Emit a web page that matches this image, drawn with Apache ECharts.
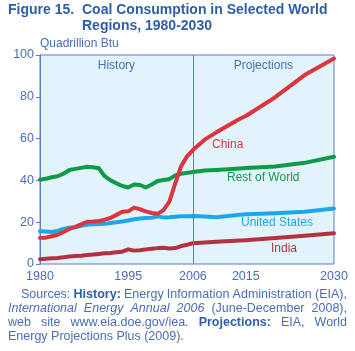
<!DOCTYPE html>
<html>
<head>
<meta charset="utf-8">
<script src="https://cdn.jsdelivr.net/npm/echarts@6/dist/echarts.min.js"></script>
<style>html,body{margin:0;padding:0;background:#fff}#c{width:355px;height:351px}</style>
</head>
<body>
<div id="c"></div>
<script>
const years = [1980,1981,1982,1983,1984,1985,1986,1987,1988,1989,1990,1991,1992,1993,1994,1995,1996,1997,1998,1999,2000,2001,2002,2003,2004,2005,2006,2008,2010,2014,2015,2020,2025,2030];
const china = [12.5,12.6,13.3,14.0,15.3,16.8,17.8,19.0,20.2,20.3,20.6,21.2,22.0,23.5,25.0,25.2,27.0,26.2,25.2,24.4,24.0,25.8,29.8,38.6,46.8,51.5,54.5,59.5,63.0,69.5,70.8,79.8,90.4,98.3];
const restOfWorld = [40.3,40.8,41.5,42.0,43.2,45.0,45.5,46.0,46.5,46.3,45.8,42.0,40.0,38.6,37.3,36.6,38.0,37.8,36.6,38.0,39.7,40.2,40.6,42.4,43.2,43.6,44.0,44.7,45.0,45.7,45.9,46.6,48.4,51.3];
const unitedStates = [15.7,15.5,15.3,15.8,16.8,17.3,17.6,18.3,18.8,19.0,19.1,19.2,19.6,20.0,20.3,20.8,21.4,21.8,22.0,22.1,22.8,22.3,22.4,22.6,22.8,22.9,23.0,22.7,22.4,23.6,23.8,24.3,25.0,26.6];
const india = [2.3,2.5,2.7,2.9,3.2,3.6,3.8,4.0,4.3,4.5,4.8,5.1,5.3,5.6,5.9,7.0,6.4,6.6,7.0,7.3,7.6,7.8,7.4,7.6,8.6,9.2,9.9,10.3,10.6,11.2,11.4,12.4,13.5,14.7];
const xTickLabels = [1980,1995,2006,2015,2030];
const yTicks = {min:0, max:100, interval:20};
const periods = ['History','Projections'];
const boundaryYear = 2006;

const blue = '#4a6db5';
const dark = '#2f5ea6';
const font = 'Liberation Sans, Arial, sans-serif';
function pairs(arr){ return years.map((y,i)=>[y,arr[i]]); }
function lineSeries(name, data, color, z){
  return {name, type:'line', data:pairs(data), symbol:'none', smooth:false, z,
    lineStyle:{color, width:4, cap:'round', join:'round'}, silent:true, animation:false};
}
const seriesList = [
  lineSeries('India', india, '#b3323f', 2),
  lineSeries('United States', unitedStates, '#1ea7e8', 3),
  lineSeries('Rest of World', restOfWorld, '#0f9a48', 4),
  lineSeries('China', china, '#dc3540', 5)
];
seriesList[0].markArea = {silent:true, itemStyle:{color:'rgba(0,0,0,0)'},
  label:{position:'insideTop', color:blue, fontFamily:font, fontSize:12, distance:5},
  data:[[{name:periods[0], xAxis:1980},{xAxis:boundaryYear}],[{name:periods[1], xAxis:boundaryYear},{xAxis:2030}]]};
seriesList[0].markLine = {silent:true, symbol:'none', label:{show:false},
  lineStyle:{color:'#5b7fc0', width:1, type:'solid'}, data:[{xAxis:boundaryYear}], animation:false};

const src = '12.5px '+font, bold = 'bold 12.5px '+font, ital = 'italic 12.5px '+font;
function t(x,y,text,opts){ return {type:'text', x, y, silent:true, style:Object.assign({text, fill:blue, font:'12px '+font, textVerticalAlign:'middle'}, opts||{})}; }
const ctx = document.createElement('canvas').getContext('2d');
function justify(words, y, x0, x1){
  const ws = words.map(w=>{ ctx.font = w.font; return ctx.measureText(w.text).width; });
  const total = ws.reduce((a,b)=>a+b,0);
  const gap = (x1-x0-total)/(words.length-1);
  let x = x0; const out = [];
  words.forEach((w,i)=>{ out.push(t(x,y,w.text,{font:w.font, fill:w.fill||blue})); x += ws[i]+gap; });
  return out;
}
const W = (text, f, fill) => ({text, font:f||src, fill});

const chart = echarts.init(document.getElementById('c'), null, {renderer:'canvas'});
chart.setOption({
  animation:false,
  grid:{left:40, top:55, right:21, bottom:87, show:true, backgroundColor:'#e2f3fc', borderColor:'#5b7fc0', borderWidth:1},
  xAxis:{type:'value', min:1980, max:2030,
    axisLine:{show:false}, axisTick:{show:false}, splitLine:{show:false},
    axisLabel:{customValues:xTickLabels, formatter:v=>String(v), color:blue, fontFamily:font, fontSize:12.5, margin:6, showMinLabel:true, showMaxLabel:true}},
  yAxis:{type:'value', min:yTicks.min, max:yTicks.max, interval:yTicks.interval,
    axisLine:{show:true, lineStyle:{color:'#5b7fc0'}}, axisTick:{show:true, length:4, lineStyle:{color:'#5b7fc0'}},
    splitLine:{show:false}, axisLabel:{color:blue, fontFamily:font, fontSize:12.5, margin:6}},
  series:seriesList,
  graphic:[
    t(8,10,'Figure 15.',{font:'bold 14px '+font, fill:dark}),
    t(82,10,'Coal Consumption in Selected World',{font:'bold 14px '+font, fill:dark}),
    t(82,26,'Regions, 1980-2030',{font:'bold 14px '+font, fill:dark}),
    t(40,44,'Quadrillion Btu'),
    t(212,145,'China',{fill:'#dc3540'}),
    t(227,178,'Rest of World',{fill:'#0f9a48'}),
    t(241,222.5,'United States',{fill:'#1ea7e8'}),
    t(271,248.5,'India',{fill:'#b3323f'}),
    ...justify([W('Sources:'),W('History:',bold,dark),W('Energy'),W('Information'),W('Administration'),W('(EIA),')],295,21,347),
    ...justify([W('International',ital),W('Energy',ital),W('Annual',ital),W('2006',ital),W('(June-December'),W('2008),')],309,8,347),
    ...justify([W('web'),W('site'),W('www.eia.doe.gov/iea.'),W('Projections:',bold,dark),W('EIA,'),W('World')],323,8,347),
    t(8,337,'Energy Projections Plus (2009).',{font:src})
  ]
});
</script>
</body>
</html>
